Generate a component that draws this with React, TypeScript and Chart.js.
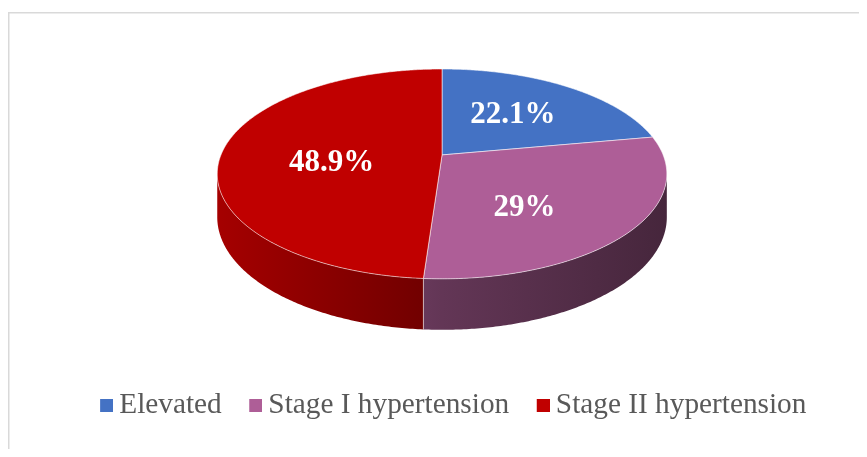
import React, { useEffect, useRef } from 'react';
import { Chart, registerables } from 'chart.js';

Chart.register(...registerables);

// ---- data ----
const categories = ['Elevated', 'Stage I hypertension', 'Stage II hypertension'];
const values = [22.1, 29, 48.9];
const valueLabels = ['22.1%', '29%', '48.9%'];
const colors = ['#4472C4', '#AE5E97', '#C00000'];

const SERIF = "'Liberation Serif', 'Times New Roman', serif";

// 3D look (styling only, relative to the pie radius Chart.js computes)
const TILT = { kA: 1.4607, kB: 0.6705, kD: 0.2759, p: 0.181, shiftX: -0.046 };
const SIDE_SHADE = [0.86, 0.57, 0.4];

function shade(hex: string, f: number) {
  const n = parseInt(hex.slice(1), 16);
  const r = Math.round(((n >> 16) & 255) * f);
  const g = Math.round(((n >> 8) & 255) * f);
  const b = Math.round((n & 255) * f);
  return `rgb(${r},${g},${b})`;
}

function makeSwatch(color: string) {
  const c = document.createElement('canvas');
  c.width = 30;
  c.height = 13;
  const g = c.getContext('2d')!;
  g.fillStyle = color;
  g.fillRect(17, 0, 13, 13);
  return c;
}

const frame = {
  id: 'frame',
  beforeDraw(chart: any) {
    const ctx = chart.ctx;
    ctx.save();
    ctx.strokeStyle = '#d9d9d9';
    ctx.lineWidth = 1.5;
    ctx.strokeRect(0.75, 4.75, chart.width + 100, chart.height + 100);
    ctx.restore();
  },
};

const pie3d = {
  id: 'pie3d',
  beforeDatasetsDraw(chart: any) {
    const meta = chart.getDatasetMeta(0);
    const arcs = meta.data;
    if (!arcs.length) return false;
    const ctx = chart.ctx;
    const R = arcs[0].outerRadius;
    const cx = arcs[0].x + R * TILT.shiftX;
    const { p } = TILT;
    const A = R * TILT.kA;
    const B = R * TILT.kB;
    const D = R * TILT.kD;
    const cy = chart.chartArea.top + B / (1 + p);
    const proj = (th: number, r: number, down: number) => {
      const u = Math.sin(th) * r;
      const v = Math.cos(th) * r;
      const d = 1 + p * v;
      return [cx + (A * u) / d, cy + (-B * v + down) / d];
    };
    const halfW = A / Math.sqrt(1 - p * p);
    const thR = Math.acos(-p);
    const thL = 2 * Math.PI - thR;

    ctx.save();
    // side walls
    arcs.forEach((el: any, i: number) => {
      const a = el.startAngle + Math.PI / 2;
      const b = el.endAngle + Math.PI / 2;
      const s = Math.max(a, thR);
      const e = Math.min(b, thL);
      if (e <= s) return;
      const n = Math.max(2, Math.ceil((e - s) / 0.01));
      ctx.beginPath();
      for (let k = 0; k <= n; k++) {
        const [x, y] = proj(s + ((e - s) * k) / n, 1, 0);
        if (k === 0) ctx.moveTo(x, y);
        else ctx.lineTo(x, y);
      }
      for (let k = n; k >= 0; k--) {
        const [x, y] = proj(s + ((e - s) * k) / n, 1, D);
        ctx.lineTo(x, y);
      }
      ctx.closePath();
      const g = ctx.createLinearGradient(cx - halfW, 0, cx + halfW, 0);
      g.addColorStop(0, shade(colors[i], SIDE_SHADE[0]));
      g.addColorStop(0.5, shade(colors[i], SIDE_SHADE[1]));
      g.addColorStop(1, shade(colors[i], SIDE_SHADE[2]));
      ctx.fillStyle = g;
      ctx.fill();
    });
    // vertical edges at slice boundaries on the front
    ctx.strokeStyle = 'rgba(255,255,255,0.55)';
    ctx.lineWidth = 1;
    arcs.forEach((el: any) => {
      const a = el.startAngle + Math.PI / 2;
      if (a > thR && a < thL) {
        const [x1, y1] = proj(a, 1, 0);
        const [x2, y2] = proj(a, 1, D);
        ctx.beginPath();
        ctx.moveTo(x1, y1);
        ctx.lineTo(x2, y2);
        ctx.stroke();
      }
    });
    // top faces
    arcs.forEach((el: any, i: number) => {
      const a = el.startAngle + Math.PI / 2;
      const b = el.endAngle + Math.PI / 2;
      const n = Math.max(2, Math.ceil((b - a) / 0.01));
      ctx.beginPath();
      const [x0, y0] = proj(0, 0, 0);
      ctx.moveTo(x0, y0);
      for (let k = 0; k <= n; k++) {
        const [x, y] = proj(a + ((b - a) * k) / n, 1, 0);
        ctx.lineTo(x, y);
      }
      ctx.closePath();
      ctx.fillStyle = colors[i];
      ctx.fill();
      ctx.strokeStyle = 'rgba(255,255,255,0.55)';
      ctx.lineWidth = 1;
      ctx.stroke();
    });
    // value labels
    ctx.fillStyle = '#ffffff';
    ctx.font = `bold 31px ${SERIF}`;
    ctx.textAlign = 'center';
    ctx.textBaseline = 'middle';
    arcs.forEach((el: any, i: number) => {
      const mid = (el.startAngle + el.endAngle) / 2 + Math.PI / 2;
      const lx = cx + A * 0.5 * Math.sin(mid);
      const ly = cy + R * 0.066 - B * 0.64 * Math.cos(mid);
      ctx.fillText(valueLabels[i], lx, ly);
    });
    ctx.restore();
    return false;
  },
};

export default function App() {
  const ref = useRef<HTMLCanvasElement | null>(null);
  useEffect(() => {
    const swatches = colors.map(makeSwatch);
    const chart = new Chart(ref.current!, {
      type: 'pie',
      data: {
        labels: categories,
        datasets: [{ data: values, backgroundColor: colors, borderWidth: 0 }],
      },
      options: {
        responsive: false,
        animation: false,
        layout: { padding: { top: 61, bottom: 19, left: 0, right: 8 } },
        plugins: {
          tooltip: { enabled: false },
          legend: {
            position: 'bottom',
            labels: {
              usePointStyle: true,
              pointStyleWidth: 13,
              boxHeight: 13,
              padding: 19,
              color: '#595959',
              font: { family: SERIF, size: 29.3 },
              generateLabels(c: any) {
                const items = (Chart as any).overrides.pie.plugins.legend.labels.generateLabels(c);
                return items.map((it: any, i: number) => ({ ...it, pointStyle: swatches[i] }));
              },
            },
          },
        },
      },
      plugins: [frame, pie3d],
    } as any);
    return () => chart.destroy();
  }, []);
  return (
    <div style={{ width: 851, height: 441, overflow: 'hidden' }}>
      <canvas ref={ref} width={890} height={441} style={{ display: 'block' }} />
    </div>
  );
}
